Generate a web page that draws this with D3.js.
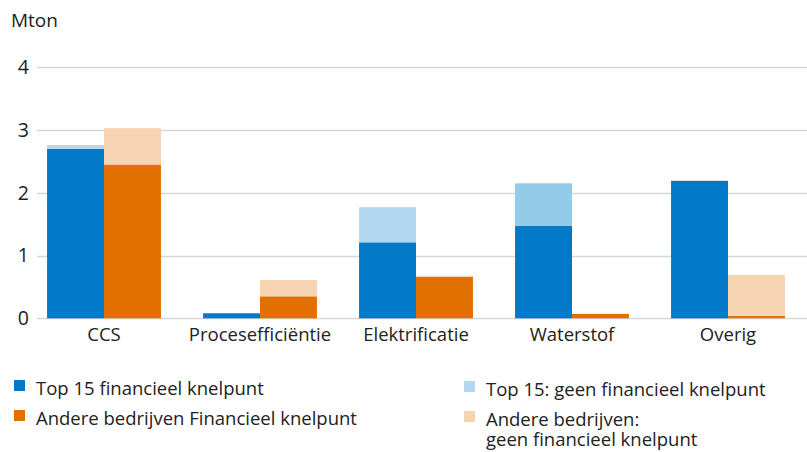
<!DOCTYPE html>
<html>
<head>
<meta charset="utf-8">
<script src="https://cdn.jsdelivr.net/npm/d3@7"></script>
<style>
  body { margin: 0; background: #fff; }
  svg text { font-family: "Open Sans", "Noto Sans", sans-serif; fill: #222; }
</style>
</head>
<body>
<svg width="807" height="452"></svg>
<script>
var categories = ["CCS", "Procesefficiëntie", "Elektrificatie", "Waterstof", "Overig"];
var groups = ["top15", "andere"];

// Mton per categorie
var top15Knelpunt = [2.70, 0.08, 1.21, 1.47, 2.19];
var top15Geen = [0.06, 0, 0.56, 0.68, 0];
var andereKnelpunt = [2.45, 0.35, 0.66, 0.07, 0.04];
var andereGeen = [0.58, 0.26, 0.02, 0, 0.65];

var yTicks = [0, 1, 2, 3, 4];

var legendItems = [
  { label: ["Top 15 financieel knelpunt"], color: "#0179c8" },
  { label: ["Andere bedrijven Financieel knelpunt"], color: "#e17000" },
  { label: ["Top 15: geen financieel knelpunt"], color: "#b3d7ef" },
  { label: ["Andere bedrijven:", "geen financieel knelpunt"], color: "#f6d4b2" }
];

var colors = {
  top15: ["#0179c8", "#b3d7ef"],
  andere: ["#e17000", "#f6d4b2"]
};
// the waterstof light bar is a bit darker in the original
var lightBlueWaterstof = "#93cbe8";

var svg = d3.select("svg");

var x = d3.scaleBand()
  .domain(categories)
  .range([26, 806])
  .paddingInner(0.27)
  .paddingOuter(0.135);

var xSub = d3.scaleBand()
  .domain(groups)
  .range([0, x.bandwidth()]);

var y = d3.scaleLinear()
  .domain([0, 4])
  .range([318.3, 67.2]);

// gridlines
svg.append("g")
  .selectAll("line").data(yTicks)
  .enter().append("line")
  .attr("x1", 37)
  .attr("x2", 807)
  .attr("y1", function(d) { return Math.round(y(d)) + 0.5; })
  .attr("y2", function(d) { return Math.round(y(d)) + 0.5; })
  .attr("stroke", "#d6d6d6")
  .attr("stroke-width", 1.5);

// y labels
svg.append("g")
  .selectAll("text").data(yTicks)
  .enter().append("text")
  .attr("x", 29)
  .attr("y", function(d) { return y(d); })
  .attr("dy", "0.35em")
  .attr("text-anchor", "end")
  .style("font-size", "19.5px")
  .text(function(d) { return d; });

svg.append("text")
  .attr("x", 11)
  .attr("y", 27)
  .style("font-size", "19px")
  .text("Mton");

// build stacked segments
var segments = [];
categories.forEach(function(c, i) {
  segments.push({ cat: c, grp: "top15", y0: 0, y1: top15Knelpunt[i], color: colors.top15[0] });
  segments.push({ cat: c, grp: "top15", y0: top15Knelpunt[i], y1: top15Knelpunt[i] + top15Geen[i],
    color: c == "Waterstof" ? lightBlueWaterstof : colors.top15[1] });
  segments.push({ cat: c, grp: "andere", y0: 0, y1: andereKnelpunt[i], color: colors.andere[0] });
  segments.push({ cat: c, grp: "andere", y0: andereKnelpunt[i], y1: andereKnelpunt[i] + andereGeen[i], color: colors.andere[1] });
});

svg.append("g")
  .selectAll("rect").data(segments.filter(function(s) { return s.y1 > s.y0; }))
  .enter().append("rect")
  .attr("x", function(d) { return x(d.cat) + xSub(d.grp); })
  .attr("width", xSub.bandwidth())
  .attr("y", function(d) { return y(d.y1); })
  .attr("height", function(d) { return y(d.y0) - y(d.y1); })
  .attr("fill", function(d) { return d.color; });

// x axis labels
var xAxis = d3.axisBottom(x).tickSize(0).tickPadding(0);
var gx = svg.append("g")
  .attr("transform", "translate(0,341)")
  .call(xAxis);
gx.select(".domain").remove();
gx.selectAll("text")
  .attr("y", 0)
  .attr("dy", 0)
  .style("font-size", "18.5px")
  .style("font-family", "'Open Sans', 'Noto Sans', sans-serif")
  .attr("fill", "#222");

// legend
var legendPos = [[14, 380], [14, 410], [464, 381], [464, 411]];
var lg = svg.append("g")
  .selectAll("g").data(legendItems)
  .enter().append("g")
  .attr("transform", function(d, i) { return "translate(" + legendPos[i][0] + "," + legendPos[i][1] + ")"; });

lg.append("rect")
  .attr("width", 11)
  .attr("height", 11)
  .attr("fill", function(d) { return d.color; });

lg.each(function(d) {
  var g = d3.select(this);
  d.label.forEach(function(l, j) {
    g.append("text")
      .attr("x", 22)
      .attr("y", 15 + j * 20)
      .style("font-size", "18.5px")
      .text(l);
  });
});
</script>
</body>
</html>
